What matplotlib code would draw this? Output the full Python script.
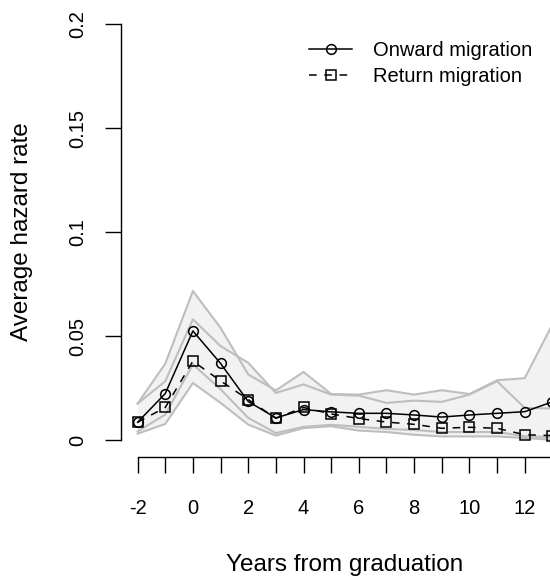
import matplotlib
matplotlib.use("Agg")
import matplotlib.pyplot as plt
import numpy as np

plt.rcParams['font.family'] = ['Liberation Sans', 'DejaVu Sans']

years = list(range(-2, 14))
onward = [0.0087, 0.0225, 0.0526, 0.0370, 0.0187, 0.0108, 0.0148, 0.0137,
          0.0130, 0.0130, 0.0122, 0.0112, 0.0122, 0.0130, 0.0138, 0.0185]
onward_hi = [0.0177, 0.0368, 0.0718, 0.0541, 0.0317, 0.0240, 0.0329, 0.0223,
             0.0220, 0.0241, 0.0220, 0.0241, 0.0223, 0.0289, 0.0299, 0.0558]
onward_lo = [0.0043, 0.0124, 0.0365, 0.0246, 0.0108, 0.0035, 0.0065, 0.0075,
             0.0065, 0.0055, 0.0050, 0.0040, 0.0040, 0.0040, 0.0020, 0.0015]
ret = [0.0087, 0.0158, 0.0381, 0.0286, 0.0196, 0.0106, 0.0158, 0.0127,
       0.0105, 0.0088, 0.0077, 0.0058, 0.0063, 0.0058, 0.0027, 0.0023]
ret_hi = [0.0177, 0.0284, 0.0582, 0.0453, 0.0373, 0.0228, 0.0269, 0.0220,
          0.0215, 0.0180, 0.0191, 0.0185, 0.0220, 0.0284, 0.0156, 0.0153]
ret_lo = [0.0032, 0.0079, 0.0276, 0.0180, 0.0076, 0.0023, 0.0059, 0.0068,
          0.0047, 0.0040, 0.0027, 0.0019, 0.0019, 0.0019, 0.0011, 0.0003]

xticks = list(range(-2, 14))
xticklabels = [str(v) if v % 2 == 0 else '' for v in xticks]
yticks = [0, 0.05, 0.1, 0.15, 0.2]
yticklabels = ['0', '0.05', '0.1', '0.15', '0.2']

W, H = 550, 583
fig = plt.figure(figsize=(W / 100, H / 100), dpi=100)
# plot region in pixels (left, top, right, bottom)
L, T, R, B = 121, 7.7, 569, 457
ax = fig.add_axes([L / W, 1 - B / H, (R - L) / W, (B - T) / H])
ax.set_xlim(-2.6, 13.6)
ax.set_ylim(-0.008, 0.208)

band_fill = '#F2F2F2'
band_line = '#BEBEBE'
ax.fill_between(years, onward_lo, onward_hi, color=band_fill, lw=0, zorder=1)
ax.fill_between(years, ret_lo, ret_hi, color=band_fill, lw=0, zorder=1)
for s in (onward_hi, onward_lo, ret_hi, ret_lo):
    ax.plot(years, s, color=band_line, lw=1.5, zorder=2)

ax.plot(years, onward, color='black', lw=1.1, marker='o', ms=7, mfc='none',
        mec='black', mew=1.1, zorder=4, label='Onward migration')
ax.plot(years, ret, color='black', lw=1.1, ls=(0, (5, 5)), marker='s', ms=7.5,
        mfc='none', mec='black', mew=1.1, zorder=3, label='Return migration')

for side in ('top', 'right'):
    ax.spines[side].set_visible(False)
ax.spines['left'].set_bounds(0, 0.2)
ax.spines['bottom'].set_bounds(-2, 13.6)
for side in ('left', 'bottom'):
    ax.spines[side].set_linewidth(1.0)

ax.set_xticks(xticks)
ax.set_xticklabels(xticklabels)
ax.set_yticks(yticks)
ax.set_yticklabels(yticklabels, rotation=90, va='center')
ax.tick_params(axis='both', direction='out', length=11.5, width=1.0,
               labelsize=14.5, color='black')
ax.tick_params(axis='x', pad=19)
ax.tick_params(axis='y', pad=13)

ax.set_xlabel('Years from graduation', fontsize=17.5)
ax.set_ylabel('Average hazard rate', fontsize=17.5)
ax.xaxis.set_label_coords(((W / 2 + 70) - L) / (R - L), (B - 565) / (B - T))
ax.yaxis.set_label_coords((22 - L) / (R - L), (B - 232) / (B - T))
ax.xaxis.label.set_va('center')
ax.yaxis.label.set_va('center')

leg = ax.legend(loc='upper left', bbox_to_anchor=(309 / W, 1 - 41.5 / H),
                bbox_transform=fig.transFigure, frameon=False, fontsize=14.5,
                handlelength=2.14, handletextpad=1.04, labelspacing=0.34,
                borderpad=0, borderaxespad=0)

fig.savefig('out.png', dpi=100)
